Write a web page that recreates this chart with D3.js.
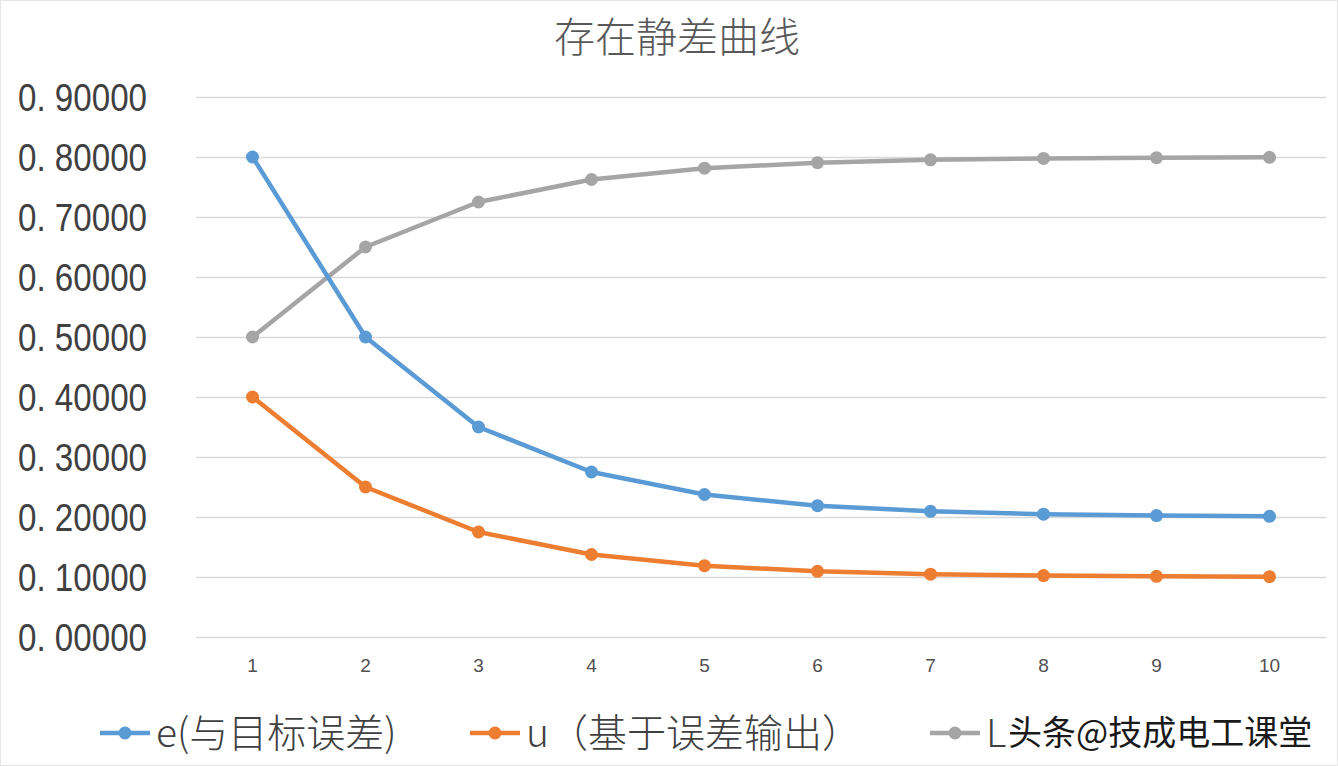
<!DOCTYPE html>
<html>
<head>
<meta charset="utf-8">
<script src="https://cdn.jsdelivr.net/npm/d3@7"></script>
<style>
  body { margin: 0; background: #fff; }
  .grid line { stroke: #d9d9d9; stroke-width: 1.3; }
  .ytick { font-family: "Liberation Sans Narrow", "Liberation Sans", sans-serif; font-size: 38px; fill: #404040; }
  .xtick { font-family: "Liberation Sans Narrow", "Liberation Sans", sans-serif; font-size: 19px; fill: #505050; }
  .title { font-family: "Noto Sans CJK SC", sans-serif; font-weight: 300; font-size: 41px; fill: #595959; }
  .legend { font-family: "Noto Sans CJK SC", sans-serif; font-weight: 300; font-size: 39px; fill: #404040; }
  .mark { font-family: "Noto Sans CJK SC", sans-serif; font-size: 34px; fill: #1a1a1a; }
</style>
</head>
<body>
<div id="chart"></div>
<script>
// 存在静差曲线
var categories = [1, 2, 3, 4, 5, 6, 7, 8, 9, 10];
var e_values = [0.8, 0.5, 0.35, 0.275, 0.2375, 0.2188, 0.2094, 0.2047, 0.2023, 0.2012];
var u_values = [0.4, 0.25, 0.175, 0.1375, 0.1188, 0.1094, 0.1047, 0.1023, 0.1012, 0.1006];
var l_values = [0.5, 0.65, 0.725, 0.7625, 0.7813, 0.7906, 0.7953, 0.7977, 0.7988, 0.7994];
var y_ticks = [0, 0.1, 0.2, 0.3, 0.4, 0.5, 0.6, 0.7, 0.8, 0.9];
var series_names = ["e(与目标误差)", "u（基于误差输出）", "L"];
var watermark = "头条@技成电工课堂";

var W = 1338, H = 766;
var margin = { top: 97, right: 12, bottom: 129, left: 196 };
var width = W - margin.left - margin.right,
    height = H - margin.top - margin.bottom;

var series = [
  { name: series_names[0], values: e_values, color: "#5b9bd5" },
  { name: series_names[1], values: u_values, color: "#ed7d31" },
  { name: series_names[2], values: l_values, color: "#a5a5a5" }
];

var svg = d3.select("#chart").append("svg")
    .attr("width", W)
    .attr("height", H);

// faint outer border
svg.append("rect")
    .attr("x", 0.5).attr("y", 0.5)
    .attr("width", W - 1).attr("height", H - 1)
    .attr("fill", "none")
    .attr("stroke", "#e6e6e6");

var g = svg.append("g")
    .attr("transform", "translate(" + margin.left + "," + margin.top + ")");

var x_scale = d3.scalePoint()
    .domain(categories)
    .range([0, width])
    .padding(0.5);

var y_scale = d3.scaleLinear()
    .domain([0, 0.9])
    .range([height, 0]);

// gridlines
g.append("g")
    .attr("class", "grid")
    .selectAll("line")
    .data(y_ticks)
    .enter().append("line")
    .attr("x1", 0)
    .attr("x2", width)
    .attr("y1", function(d) { return Math.round(y_scale(d)) + 0.5; })
    .attr("y2", function(d) { return Math.round(y_scale(d)) + 0.5; });

// y axis labels (squeezed to the narrow look of the original)
g.append("g")
    .selectAll("text")
    .data(y_ticks)
    .enter().append("text")
    .attr("class", "ytick")
    .attr("x", -178)
    .attr("y", function(d) { return y_scale(d); })
    .attr("dy", "0.36em")
    .attr("textLength", 129)
    .attr("lengthAdjust", "spacingAndGlyphs")
    .text(function(d) { return "0. " + d3.format(".5f")(d).split(".")[1]; });

// x axis labels
g.append("g")
    .selectAll("text")
    .data(categories)
    .enter().append("text")
    .attr("class", "xtick")
    .attr("x", function(d) { return x_scale(d); })
    .attr("y", height + 35)
    .attr("text-anchor", "middle")
    .text(function(d) { return d; });

var line = d3.line()
    .x(function(d, i) { return x_scale(categories[i]); })
    .y(function(d) { return y_scale(d); });

// lines and dots
[2, 0, 1].forEach(function(k) {
  var s = series[k];
  var sg = g.append("g");
  sg.append("path")
      .datum(s.values)
      .attr("d", line)
      .attr("fill", "none")
      .attr("stroke", s.color)
      .attr("stroke-width", 4.5)
      .attr("stroke-linejoin", "round");
  sg.selectAll("circle")
      .data(s.values)
      .enter().append("circle")
      .attr("cx", function(d, i) { return x_scale(categories[i]); })
      .attr("cy", function(d) { return y_scale(d); })
      .attr("r", 6.5)
      .attr("fill", s.color);
});

// title
svg.append("text")
    .attr("class", "title")
    .attr("x", 677)
    .attr("y", 52)
    .attr("text-anchor", "middle")
    .text("存在静差曲线");

// legend
var legend_x = [100, 470, 930];
series.forEach(function(s, i) {
  var lg = svg.append("g")
      .attr("transform", "translate(" + legend_x[i] + ",733)");
  lg.append("line")
      .attr("x1", 0).attr("x2", 50)
      .attr("stroke", s.color)
      .attr("stroke-width", 4.5);
  lg.append("circle")
      .attr("cx", 25).attr("r", 6.5)
      .attr("fill", s.color);
  lg.append("text")
      .attr("class", "legend")
      .attr("x", 56)
      .attr("dy", "0.36em")
      .text(s.name);
});

// watermark over the last legend entry
svg.append("text")
    .attr("class", "mark")
    .attr("x", 1008)
    .attr("y", 733)
    .attr("dy", "0.36em")
    .text(watermark);
</script>
</body>
</html>
